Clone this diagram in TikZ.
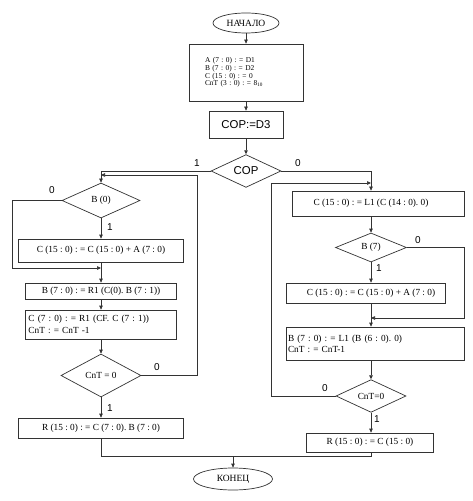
\documentclass[tikz,border=0pt]{standalone}
\usepackage{fontspec}
\setmainfont{Liberation Serif}
\newfontfamily\arialf{Liberation Sans}
\usetikzlibrary{arrows.meta,shapes.geometric}
\frenchspacing
\begin{document}
\begin{tikzpicture}[x=1bp,y=-1bp,
  ln/.style={draw=black!80, line width=0.7bp},
  box/.style={ln, rectangle, inner sep=0pt, font=\fontsize{9.3bp}{11bp}\selectfont},
  dia/.style={ln, diamond, inner sep=0pt, font=\fontsize{9.3bp}{11bp}\selectfont},
  term/.style={ln, ellipse, inner sep=0pt, font=\fontsize{9.5bp}{11bp}\selectfont},
  txt/.style={inner sep=0pt, font=\fontsize{9.3bp}{11bp}\selectfont},
  sans/.style={font=\arialf\fontsize{11.4bp}{13bp}\selectfont},
  arr/.style={ln, -{Triangle[length=4bp,width=3.5bp]}},
  lab/.style={inner sep=0pt, font=\arialf\fontsize{10bp}{12bp}\selectfont}]
\useasboundingbox (0,0) rectangle (473,501);
\fill[white] (0,0) rectangle (473,501);

% top
\node[term, minimum width=66bp, minimum height=20bp] (start) at (246,23) {НАЧАЛО};
\node[box, minimum width=114bp, minimum height=57bp, text width=82bp, align=left, inner xsep=16bp,
      font=\fontsize{7.4bp}{7.6bp}\selectfont] (init) at (246,72.5)
      {A (7 : 0) : = D1\\ B (7 : 0) : = D2\\ C (15 : 0) : = 0\\ CnT (3 : 0) : = 8\textsubscript{10}};
\node[box, sans, minimum width=74bp, minimum height=27bp] (copset) at (246,124.5) {COP:=D3};
\node[dia, sans, minimum width=70bp, minimum height=28bp] (copd) at (246,171) {COP};

% left column
\node[dia, minimum width=78bp, minimum height=35bp] (b0) at (101,200.5) {B (0)};
\node[box, minimum width=165bp, minimum height=23bp] (addL) at (101,250.5) {C (15 : 0) : = C (15 : 0) + A (7 : 0)};
\node[box, minimum width=151bp, minimum height=16bp] (rotB) at (101,291) {B (7 : 0) : = R1 (C(0). B (7 : 1))};
\node[box, minimum width=151bp, minimum height=29bp, text width=145bp, align=left, inner xsep=3bp,
      font=\fontsize{9.3bp}{12bp}\selectfont] (rotC) at (101,324.5)
      {C (7 : 0) : = R1 (CF. C (7 : 1))\\ CnT : = CnT -1};
\node[dia, minimum width=80bp, minimum height=43bp] (cntL) at (101,375.5) {CnT = 0};
\node[box, minimum width=165bp, minimum height=20bp] (resL) at (101,428) {R (15 : 0) : = C (7 : 0). B (7 : 0)};

% right column
\node[box, minimum width=172bp, minimum height=25bp] (shiftC) at (378,203.5) {};
\node[txt] (shiftCt) at (371,203.5) {C (15 : 0) : = L1 (C (14 : 0). 0)};
\node[dia, minimum width=71bp, minimum height=29bp] (b7) at (371,247.5) {B (7)};
\node[box, minimum width=159bp, minimum height=20bp] (addR) at (365.5,293) {};
\node[txt] (addRt) at (371,293) {C (15 : 0) : = C (15 : 0) + A (7 : 0)};
\node[box, minimum width=178bp, minimum height=33bp, text width=174bp, align=left, inner xsep=2bp] (shiftB) at (375,343.5)
      {B (7 : 0) : = L1 (B (6 : 0). 0)\\ CnT : = CnT-1};
\node[dia, minimum width=70bp, minimum height=27bp] (cntR) at (371,396) {CnT=0};
\node[box, minimum width=127bp, minimum height=19bp] (resR) at (370,442.5) {R (15 : 0) : = C (15 : 0)};

\node[term, minimum width=79bp, minimum height=22bp] (endn) at (233,479) {КОНЕЦ};

% helper coordinates
\coordinate (mergeL) at (101,268);
\coordinate (loopL) at (101,175);
\coordinate (bendA) at (12,268);
\coordinate (bendB) at (197,175);
\coordinate (mergeR) at (371,318);
\coordinate (loopR) at (371,183);
\coordinate (bendC) at (464,318);
\coordinate (bendD) at (271,183);
\coordinate (join) at (233,456);

% connectors top
\draw[arr] (start.south) -- (init.north);
\draw[arr] (init.south) -- (copset.north);
\draw[arr] (copset.south) -- (copd.north);
\draw[arr] (copd.west) -| (b0.north);
\draw[arr] (copd.east) -| (shiftCt |- shiftC.north);

% left
\draw[arr] (b0.west) -| (bendA) -- (mergeL);
\draw[arr] (b0.south) -- (addL.north);
\draw[arr] (addL.south) -- (rotB.north);
\draw[arr] (rotB.south) -- (rotC.north);
\draw[arr] (rotC.south) -- (cntL.north);
\draw[arr] (cntL.east) -| (bendB) -- (loopL);
\draw[arr] (cntL.south) -- (resL.north);

% right
\draw[arr] (shiftC.south -| shiftCt) -- (b7.north);
\draw[arr] (b7.east) -| (bendC) -- (mergeR);
\draw[arr] (b7.south) -- (addRt |- addR.north);
\draw[arr] (addR.south -| addRt) -- (shiftB.north -| addRt);
\draw[arr] (shiftB.south -| cntR) -- (cntR.north);
\draw[arr] (cntR.west) -| (bendD) -- (loopR);
\draw[arr] (cntR.south) -- (resR.north -| cntR);

% end
\draw[ln] (resL.south) |- (join);
\draw[ln] (resR.south -| cntR) |- (join);
\draw[arr] (join) -- (endn.north);

% labels
\node[lab] (t1) at (197,163) {1};
\node[lab] (t2) at (298,163) {0};
\node[lab] (t3) at (52,190) {0};
\node[lab] (t4) at (110,227) {1};
\node[lab] (t5) at (157,367) {0};
\node[lab] (t6) at (110,408) {1};
\node[lab] (t7) at (418,240) {0};
\node[lab] (t8) at (379,268) {1};
\node[lab] (t9) at (325,388) {0};
\node[lab] (t10) at (377,419) {1};
\end{tikzpicture}
\end{document}
